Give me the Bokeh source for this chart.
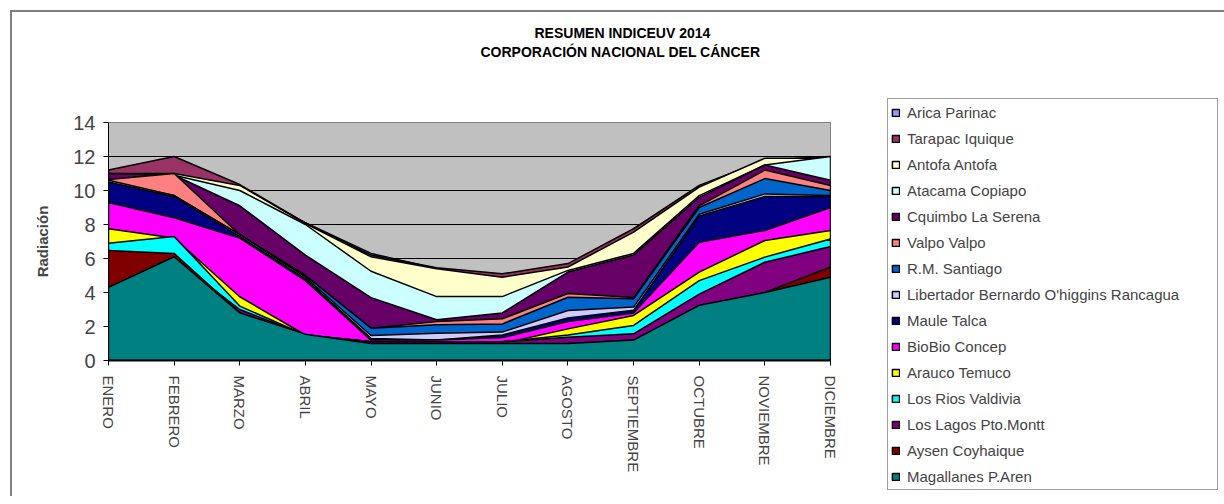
import math
from bokeh.plotting import figure
from bokeh.models import FixedTicker, Legend, LegendItem, Range1d, Title
from bokeh.embed import file_html
from bokeh.resources import INLINE

months = ["ENERO", "FEBRERO", "MARZO", "ABRIL", "MAYO", "JUNIO", "JULIO",
          "AGOSTO", "SEPTIEMBRE", "OCTUBRE", "NOVIEMBRE", "DICIEMBRE"]

arica      = [11.0, 11.5, 10.2, 8.1, 6.3, 5.4, 4.9, 5.6, 7.6, 10.2, 11.7, 11.9]
tarapac    = [11.2, 12.0, 10.35, 8.1, 6.2, 5.45, 5.1, 5.7, 7.75, 10.3, 11.8, 12.0]
antofa     = [11.0, 11.0, 10.3, 8.05, 6.1, 5.4, 4.9, 5.5, 7.55, 10.2, 11.9, 11.9]
atacama    = [10.9, 10.9, 10.0, 8.0, 5.25, 3.76, 3.76, 5.3, 6.3, 9.7, 11.5, 12.0]
cquimbo    = [11.0, 10.9, 9.1, 6.2, 3.7, 2.4, 2.8, 5.2, 6.2, 9.6, 11.5, 10.6]
valpo      = [10.65, 11.0, 7.4, 5.0, 1.9, 2.3, 2.45, 3.94, 3.7, 9.1, 11.2, 10.3]
rm         = [10.5, 9.7, 7.4, 5.0, 1.9, 2.1, 2.15, 3.72, 3.63, 9.0, 10.7, 10.0]
libertador = [10.6, 9.7, 7.4, 4.9, 1.47, 1.6, 1.67, 2.94, 3.14, 8.6, 9.8, 9.7]
maule      = [10.5, 9.65, 7.3, 4.8, 1.3, 1.2, 1.5, 2.5, 2.95, 8.5, 9.65, 9.65]
biobio     = [9.3, 8.4, 7.2, 4.7, 1.2, 1.2, 1.35, 2.3, 2.8, 6.96, 7.65, 9.0]
arauco     = [7.75, 7.2, 3.75, 1.5, 1.1, 1.0, 1.0, 1.86, 2.65, 5.2, 7.06, 7.65]
losrios    = [6.9, 7.3, 3.2, 1.5, 1.1, 1.0, 1.1, 1.5, 2.06, 4.7, 6.08, 7.15]
loslagos   = [6.2, 6.0, 3.0, 1.5, 1.1, 1.1, 1.1, 1.37, 1.57, 3.9, 5.78, 6.7]
aysen      = [6.47, 6.3, 2.8, 1.5, 0.9, 0.8, 0.9, 1.0, 1.2, 3.2, 4.0, 5.5]
magallanes = [4.3, 6.1, 2.8, 1.55, 1.0, 1.0, 1.0, 1.0, 1.2, 3.25, 4.0, 4.9]

names = ["Arica Parinac", "Tarapac Iquique", "Antofa Antofa", "Atacama Copiapo",
         "Cquimbo La Serena", "Valpo Valpo", "R.M. Santiago",
         "Libertador Bernardo O'higgins Rancagua", "Maule Talca", "BioBio Concep",
         "Arauco Temuco", "Los Rios Valdivia", "Los Lagos Pto.Montt",
         "Aysen Coyhaique", "Magallanes P.Aren"]
values = [arica, tarapac, antofa, atacama, cquimbo, valpo, rm, libertador, maule,
          biobio, arauco, losrios, loslagos, aysen, magallanes]
colors = ["#9999FF", "#993366", "#FFFFCC", "#CCFFFF", "#660066", "#FF8080",
          "#0066CC", "#CCCCFF", "#000080", "#FF00FF", "#FFFF00", "#00FFFF",
          "#800080", "#800000", "#008080"]

yticks = [0, 2, 4, 6, 8, 10, 12, 14]
title1 = "RESUMEN INDICEUV 2014"
title2 = "CORPORACIÓN NACIONAL DEL CÁNCER"

FONT = "Liberation Sans"

p = figure(frame_width=722, frame_height=238, output_backend="svg",
           toolbar_location=None,
           x_range=Range1d(0, 11), y_range=Range1d(0, 14),
           min_border_left=108, min_border_top=122, min_border_bottom=136,
           min_border_right=386, title=None)
p.styles = {"background-color": "white",
            "box-shadow": "inset 10px 10px 0 0 white, inset 12px 12px 0 0 #808080"}
p.border_fill_alpha = 0
p.background_fill_color = "#C0C0C0"
p.outline_line_color = "#808080"

xs_idx = list(range(len(months)))
items = []
for name, vals, col in zip(names, values, colors):
    xs = xs_idx + [xs_idx[-1], xs_idx[0]]
    ys = list(vals) + [0, 0]
    r = p.patch(xs, ys, fill_color=col, line_color="black", line_width=1.5)
    items.append(LegendItem(label=name, renderers=[r]))

# axes
p.xaxis.ticker = FixedTicker(ticks=xs_idx)
p.xaxis.major_label_overrides = {i: m for i, m in enumerate(months)}
p.xaxis.major_label_orientation = -math.pi / 2
p.xaxis.major_label_text_font = FONT
p.xaxis.major_label_text_font_size = "15px"
p.xaxis.major_label_standoff = 10
p.xaxis.major_tick_out = 5
p.xaxis.major_tick_in = 0
p.xaxis.minor_tick_line_color = None
p.xaxis.axis_line_color = "black"
p.xaxis.axis_line_width = 2

p.yaxis.ticker = FixedTicker(ticks=yticks)
p.yaxis.major_label_text_font = FONT
p.yaxis.major_label_text_font_size = "20px"
p.yaxis.major_label_standoff = 8
p.yaxis.major_tick_out = 5
p.yaxis.major_tick_in = 0
p.yaxis.minor_tick_line_color = None
p.yaxis.axis_line_color = "black"
p.yaxis.axis_label = "Radiación"
p.yaxis.axis_label_text_font = FONT
p.yaxis.axis_label_text_font_style = "bold"
p.yaxis.axis_label_text_font_size = "15px"
p.yaxis.axis_label_standoff = 19

p.xgrid.grid_line_color = None
p.ygrid.grid_line_color = "black"
p.ygrid.grid_line_width = 1

# title lines: spacer nearest the plot, then line 2, then line 1
spacer = Title(text=" ", align="left", offset=0, standoff=44,
               text_font=FONT, text_font_size="14px")
t2 = Title(text=title2, align="left", offset=372, standoff=2, text_font=FONT,
           text_font_style="bold", text_font_size="14px", text_color="black")
t1 = Title(text=title1, align="left", offset=426, standoff=0, text_font=FONT,
           text_font_style="bold", text_font_size="14px", text_color="black")
p.add_layout(spacer, "above")
p.add_layout(t2, "above")
p.add_layout(t1, "above")

legend = Legend(items=items, location=(57, -130))
legend.label_text_font = FONT
legend.label_text_font_size = "15px"
legend.glyph_width = 9
legend.glyph_height = 9
legend.label_height = 20
legend.spacing = 6
legend.padding = 3
legend.margin = 0
legend.label_standoff = 7
legend.label_width = 307
legend.border_line_color = "#404040"
legend.border_line_width = 1
legend.background_fill_color = "white"
legend.background_fill_alpha = 1
p.add_layout(legend, "right")

open("out.html", "w").write(file_html(p, INLINE))
